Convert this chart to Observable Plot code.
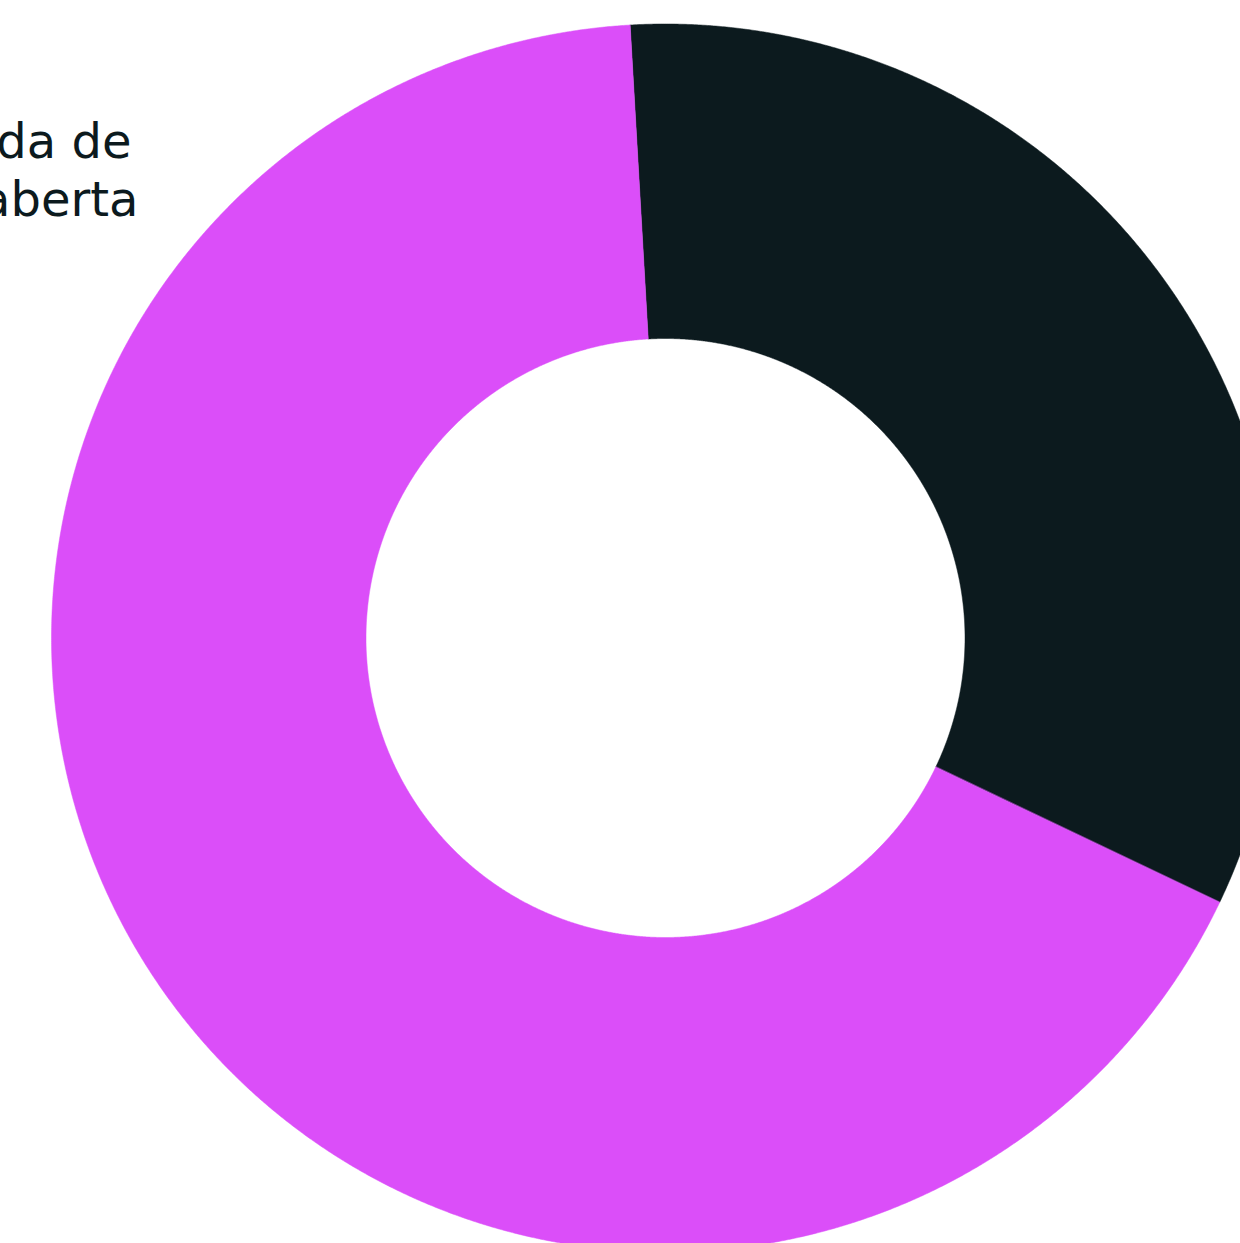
<!DOCTYPE html>
<html>
<head>
<meta charset="utf-8">
<script src="https://cdn.jsdelivr.net/npm/d3@7"></script>
<script src="https://cdn.jsdelivr.net/npm/@observablehq/plot@0.6"></script>
<style>
  html, body { margin: 0; padding: 0; background: #ffffff; overflow: hidden; }
  #chart svg { display: block; }
</style>
</head>
<body>
<div id="chart"></div>
<script>
// Data
const categories = ["Posição fechada", "Posição aberta"];
const values = [33, 67];
const colors = ["#0c1a1e", "#db4ef9"];
const labelLines = ["Saída de", "posição aberta"];

// Layout
const W = 1240, H = 1243;
const cx = 665, cy = 637.5;      // donut centre in pixels
const R = 614, rIn = 299.5;      // outer / inner radius in pixels
const startDeg = -3.3;           // first slice start, clockwise from 12 o'clock
const labelEnds = [131, 138];    // right end of each label line (px)
const labelBaselines = [157, 215];

const total = d3.sum(values);
const slices = [];
let acc = startDeg;
values.forEach((v, i) => {
  const span = v / total * 360;
  slices.push({name: categories[i], a0: acc, a1: acc + span, color: colors[i]});
  acc += span;
});

function slicePoints(s) {
  const pts = [];
  const n = Math.max(8, Math.ceil((s.a1 - s.a0) / 0.2));
  for (let k = 0; k <= n; k++) {
    const a = (s.a0 + (s.a1 - s.a0) * k / n) * Math.PI / 180;
    pts.push({x: R * Math.sin(a), y: R * Math.cos(a)});
  }
  for (let k = n; k >= 0; k--) {
    const a = (s.a0 + (s.a1 - s.a0) * k / n) * Math.PI / 180;
    pts.push({x: rIn * Math.sin(a), y: rIn * Math.cos(a)});
  }
  return pts;
}

const marks = slices.map(s => Plot.line(slicePoints(s), {
  x: "x", y: "y", fill: s.color, stroke: s.color, strokeWidth: 0.5, curve: "linear-closed"
}));

const labelRows = labelLines.map((t, i) => ({t, x: labelEnds[i] - cx, y: cy - labelBaselines[i]}));
marks.push(Plot.text(labelRows, {
  x: "x", y: "y", text: "t",
  textAnchor: "end", lineAnchor: "bottom",
  fontSize: 48, fontWeight: 400, fill: "#0c1a1e",
  fontFamily: "'DejaVu Sans', sans-serif"
}));

const chart = Plot.plot({
  width: W, height: H,
  marginTop: 0, marginRight: 0, marginBottom: 0, marginLeft: 0,
  x: {domain: [-cx, W - cx], range: [0, W], axis: null},
  y: {domain: [-(H - cy), cy], range: [H, 0], axis: null},
  style: {background: "#ffffff", overflow: "hidden"},
  marks
});
document.getElementById("chart").appendChild(chart);
</script>
</body>
</html>
